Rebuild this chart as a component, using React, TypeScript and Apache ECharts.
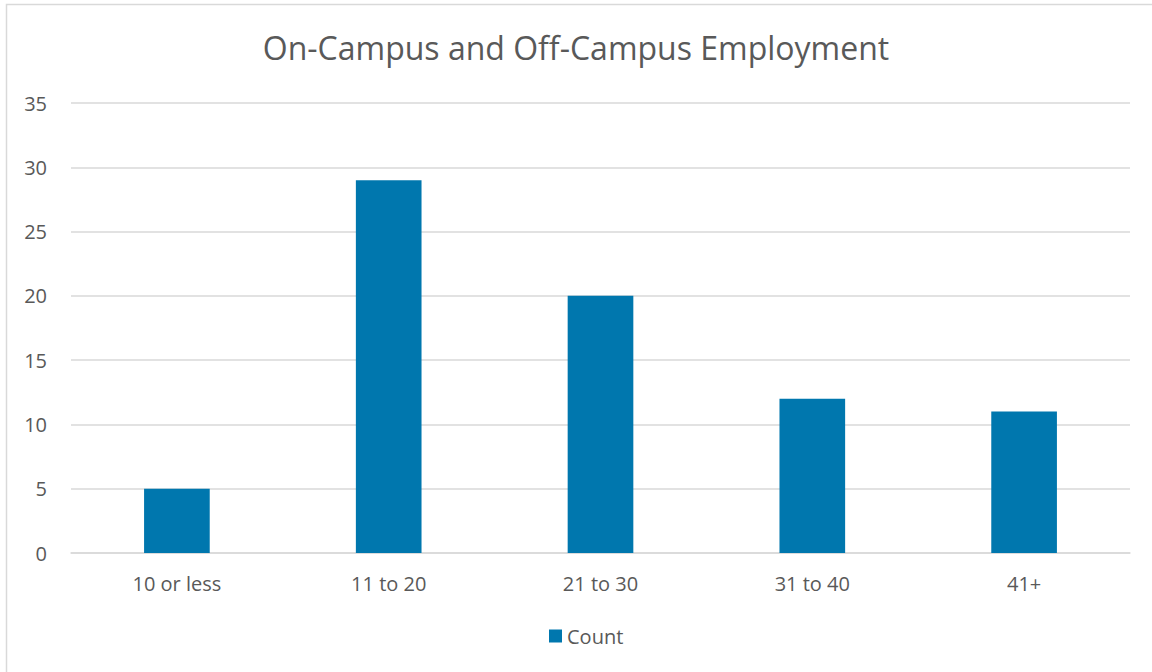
import React, { useEffect, useRef } from "react";
import * as echarts from "echarts";

const categories = ["10 or less", "11 to 20", "21 to 30", "31 to 40", "41+"];
const counts = [5, 29, 20, 12, 11];
const seriesName = "Count";
const titleText = "On-Campus and Off-Campus Employment";

export default function App() {
  const ref = useRef<HTMLDivElement>(null);
  useEffect(() => {
    document.body.style.margin = "0";
    const chart = echarts.init(ref.current!, null, { renderer: "svg" });
    const font = "'Open Sans', 'Noto Sans', sans-serif";
    chart.setOption({
      animation: false,
      backgroundColor: "#ffffff",
      textStyle: { fontFamily: font },
      title: {
        text: titleText,
        left: "center",
        top: 26,
        textStyle: { fontFamily: font, fontSize: 32, fontWeight: "normal", color: "#595959" },
      },
      graphic: [
        {
          type: "rect",
          shape: { x: 6.5, y: 4.5, width: 1200, height: 700 },
          style: { fill: "none", stroke: "#d9d9d9", lineWidth: 1.5 },
          silent: true,
        },
      ],
      legend: {
        data: [seriesName],
        bottom: 21,
        left: 544,
        icon: "rect",
        itemWidth: 13,
        itemHeight: 13,
        itemGap: 5,
        textStyle: { fontFamily: font, fontSize: 20, color: "#595959", padding: [0, 0, 0, 0] },
      },
      grid: { left: 71, right: 22, top: 103, bottom: 119 },
      xAxis: {
        type: "category",
        data: categories,
        axisLine: { show: true, lineStyle: { color: "#d9d9d9", width: 1.5 } },
        axisTick: { show: false },
        axisLabel: { fontFamily: font, fontSize: 20, color: "#595959", margin: 20 },
      },
      yAxis: {
        type: "value",
        min: 0,
        max: 35,
        interval: 5,
        axisLine: { show: false },
        axisTick: { show: false },
        splitLine: { lineStyle: { color: "#d9d9d9", width: 1.5 } },
        axisLabel: { fontFamily: font, fontSize: 20, color: "#595959", margin: 24 },
      },
      series: [
        {
          name: seriesName,
          type: "bar",
          data: counts,
          barWidth: "31%",
          itemStyle: { color: "#0077ae" },
        },
      ],
    });
    return () => chart.dispose();
  }, []);
  return (
    <div
      ref={ref}
      style={{ position: "absolute", left: 0, top: 0, width: 1152, height: 672 }}
    />
  );
}
